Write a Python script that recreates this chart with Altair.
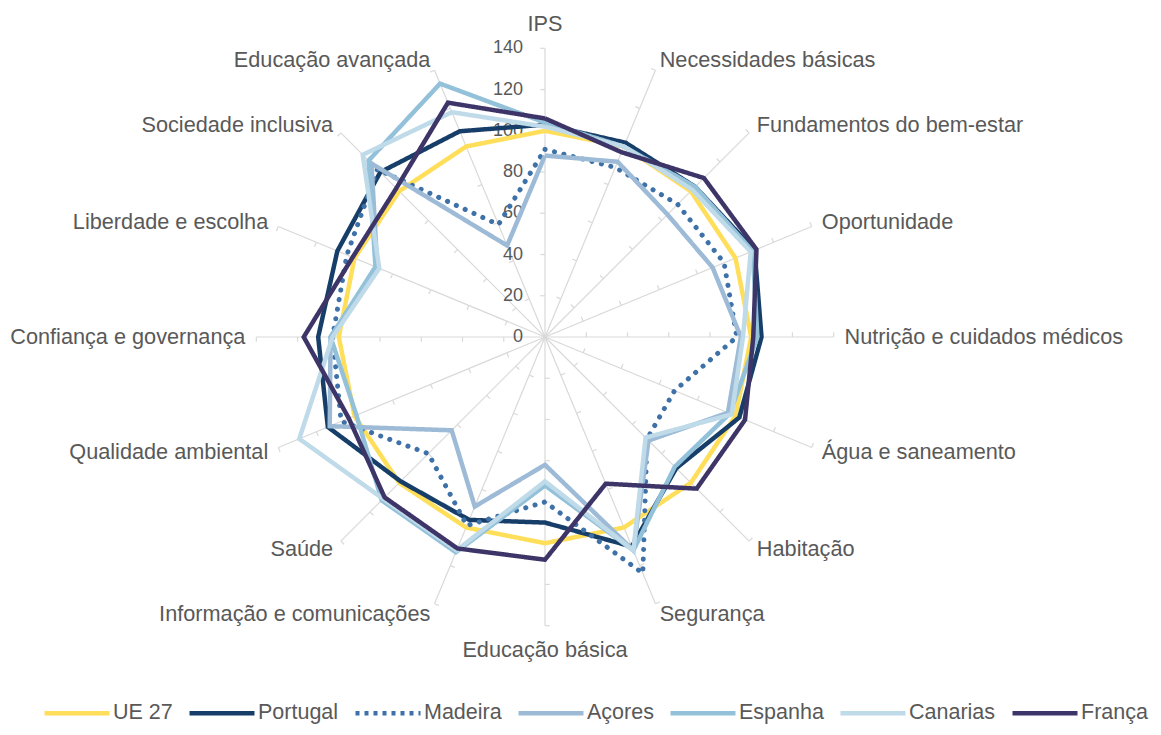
import altair as alt
import pandas as pd
import numpy as np

categories = ["IPS", "Necessidades básicas", "Fundamentos do bem-estar", "Oportunidade",
              "Nutrição e cuidados médicos", "Água e saneamento", "Habitação", "Segurança",
              "Educação básica", "Informação e comunicações", "Saúde", "Qualidade ambiental",
              "Confiança e governança", "Liberdade e escolha", "Sociedade inclusiva",
              "Educação avançada"]

series_names = ["UE 27", "Portugal", "Madeira", "Açores", "Espanha", "Canarias", "França"]

ue27     = [100, 100, 100, 100, 100, 100, 100, 100, 100, 100, 100, 100, 100, 100, 100, 100]
portugal = [103, 102, 103, 110, 105, 102, 90, 110, 90, 96, 99, 114, 110, 109, 113, 108]
madeira  = [91, 89, 91, 94, 93, 68, 70, 124, 80, 99, 80, 107, 103, 104, 115, 59]
acores   = [88, 92, 84, 88, 95, 96, 71, 112, 62, 89, 64, 113, 104, 88, 119, 48]
espanha  = [104, 100, 103, 109, 103, 97, 89, 112, 72, 113, 112, 99, 104, 89, 121, 133]
canarias = [102, 100, 101, 108, 96, 98, 69, 112, 70, 112, 111, 129, 103, 87, 125, 118]
franca   = [106, 97, 109, 111, 101, 105, 104, 77, 108, 111, 110, 103, 117, 101, 102, 123]

series_values = [ue27, portugal, madeira, acores, espanha, canarias, franca]
series_colors = ["#FFDE59", "#173E68", "#3D71A8", "#9DBAD6", "#93C1DA", "#BFDAE8", "#3D3568"]

tick_values = [0, 20, 40, 60, 80, 100, 120, 140]
r_max = 140

# ---- layout constants (pixels) ----
W, H = 1145, 719
CX, CY = 537, 329          # centre of the radar inside the plot area
K = 2.062                  # pixels per unit
TEXT = "#595959"
FONT = "Liberation Sans"

xs = alt.Scale(domain=[-CX / K, (W - CX) / K], nice=False, zero=False)
ys = alt.Scale(domain=[-(H - CY) / K, CY / K], nice=False, zero=False)
n = len(categories)

# ---- data frames ----
rows = []
for s, vals in zip(series_names, series_values):
    for i in range(n + 1):
        rows.append({"series": s, "idx": i, "value": vals[i % n]})
lines_df = pd.DataFrame(rows)

spokes_df = pd.DataFrame({"idx": list(range(n)), "cat": categories})

ticks_rows = []
for i in range(n):
    for v in tick_values[1:]:
        ticks_rows.append({"idx": i, "v": v})
ticks_df = pd.DataFrame(ticks_rows)

ang = np.arange(n) * 2 * np.pi / n
side = np.where(np.abs(np.sin(ang)) < 1e-6, 0, np.sign(np.sin(ang))).astype(int)
lab_r = np.where(side == 0, 152.0, 145.3)
labels_df = pd.DataFrame({
    "cat": categories,
    "side": side,
    "lx": lab_r * np.sin(ang),
    "ly": lab_r * np.cos(ang),
})

vals_df = pd.DataFrame({"v": tick_values, "lab": [str(t) for t in tick_values]})

# ---- layers ----
ANG = "2*PI*datum.idx/16"

spokes = alt.Chart(spokes_df).transform_calculate(
    x0="0", y0="0",
    x1=f"{r_max}*sin({ANG})", y1=f"{r_max}*cos({ANG})"
).mark_rule(color="#D9D9D9", strokeWidth=1.2).encode(
    x=alt.X("x0:Q", scale=xs, axis=None),
    y=alt.Y("y0:Q", scale=ys, axis=None),
    x2="x1:Q", y2="y1:Q",
)

TL = 2.3
ticks = alt.Chart(ticks_df).transform_calculate(
    tx=f"datum.v*sin({ANG})", ty=f"datum.v*cos({ANG})",
).transform_calculate(
    tx2=f"datum.tx - {TL}*cos({ANG})", ty2=f"datum.ty + {TL}*sin({ANG})",
).mark_rule(color="#D9D9D9", strokeWidth=1.2).encode(
    x=alt.X("tx:Q", scale=xs, axis=None),
    y=alt.Y("ty:Q", scale=ys, axis=None),
    x2="tx2:Q", y2="ty2:Q",
)

value_labels = alt.Chart(vals_df).transform_calculate(zx="0").mark_text(
    align="right", baseline="middle", dx=-22, fontSize=18, font=FONT, color=TEXT
).encode(
    x=alt.X("zx:Q", scale=xs, axis=None),
    y=alt.Y("v:Q", scale=ys, axis=None),
    text="lab:N",
)

def cat_layer(side_val, align):
    return alt.Chart(labels_df).transform_filter(f"datum.side == {side_val}").mark_text(
        align=align, baseline="middle", fontSize=21.7, font=FONT, color=TEXT
    ).encode(
        x=alt.X("lx:Q", scale=xs, axis=None),
        y=alt.Y("ly:Q", scale=ys, axis=None),
        text="cat:N",
    )

cat_labels = cat_layer(1, "left") + cat_layer(-1, "right") + cat_layer(0, "center")

color_scale = alt.Scale(domain=series_names, range=series_colors)
dash_scale = alt.Scale(domain=series_names,
                       range=[[1, 0], [1, 0], [4, 5], [1, 0], [1, 0], [1, 0], [1, 0]])

leg = alt.Legend(
    title=None, orient="none", direction="horizontal", legendX=34, legendY=670,
    symbolType="stroke", symbolSize=4225, symbolStrokeWidth=4.5,
    labelFontSize=21.5, labelFont=FONT, labelColor=TEXT, labelOffset=1,
    columnPadding=7, symbolOpacity=1,
)

series_layers = []
for s in series_names:
    base = alt.Chart(lines_df).transform_filter(
        alt.datum.series == s
    ).transform_calculate(
        px=f"datum.value*sin({ANG})", py=f"datum.value*cos({ANG})"
    )
    enc = dict(
        x=alt.X("px:Q", scale=xs, axis=None),
        y=alt.Y("py:Q", scale=ys, axis=None),
        order=alt.Order("idx:Q"),
        color=alt.Color("series:N", scale=color_scale, legend=leg),
    )
    if s == "Madeira":
        layer = base.mark_line(strokeWidth=5, strokeDash=[0.1, 9.6], strokeCap="round").encode(**enc)
    else:
        enc["strokeDash"] = alt.StrokeDash("series:N", scale=dash_scale, legend=leg)
        layer = base.mark_line(strokeWidth=4.5, strokeJoin="miter").encode(**enc)
    series_layers.append(layer)

chart = alt.layer(spokes, ticks, value_labels, cat_labels, *series_layers).properties(
    width=W, height=H, padding=0,
    autosize=alt.AutoSizeParams(type="none"),
    background="white",
).configure_view(stroke=None)

chart.save("out.html", embed_options={"renderer": "svg", "actions": False})
